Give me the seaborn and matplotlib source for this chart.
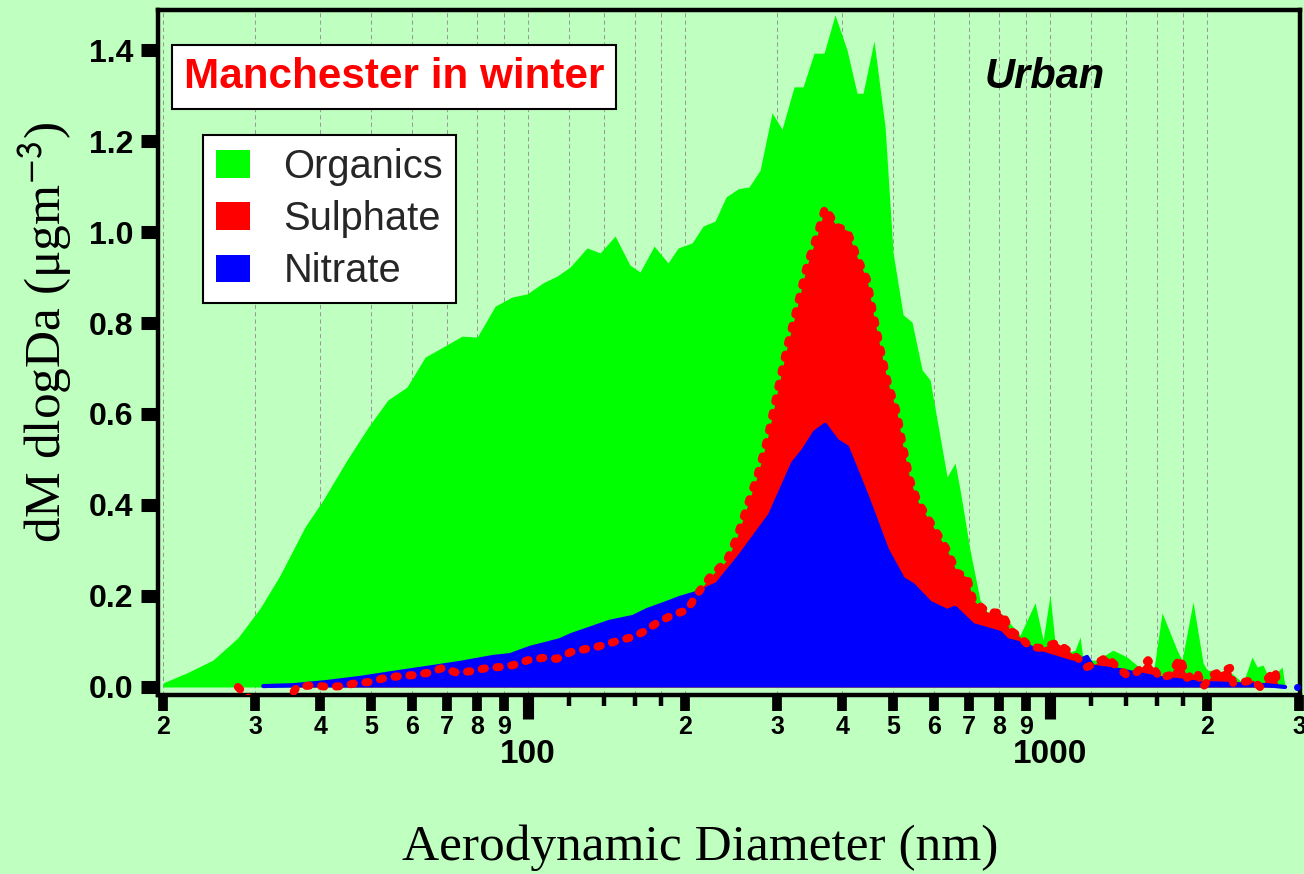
import numpy as np
import matplotlib
matplotlib.use("Agg")
import matplotlib.pyplot as plt
import seaborn as sns
from matplotlib.patches import Patch
from matplotlib import font_manager as fm
from matplotlib.ticker import FixedLocator, FixedFormatter, NullFormatter, NullLocator

# ---------------- data ----------------
organics_d = [20.0, 22.2, 24.9, 27.8, 30.7, 33.5, 37.4, 40.5, 45.0, 49.4, 53.9, 58.6, 63.5, 68.7,
              74.7, 79.9, 86.5, 93.2, 99.6, 106.8, 113.6, 120.4, 129.7, 137.4, 146.8, 156.8, 163.9,
              174.4, 185.4, 193.9, 206.2, 216.4, 228.2, 239.5, 252.6, 265.1, 278.3, 293.4, 306.6,
              323.3, 336.4, 353.1, 369.0, 387.3, 408.4, 426.8, 438.3, 460.0, 483.0, 500.4, 523.0,
              544.0, 568.6, 589.0, 596.9, 635.0, 657.7, 672.4, 702.6, 734.4, 757.4, 812.8, 876,
              936, 970, 1000, 1022, 1092, 1117, 1142, 1157, 1230, 1320, 1404, 1487, 1575, 1639,
              1751, 1790, 1879, 1964, 1999, 2212, 2343, 2438, 2492, 2559, 2639, 2783, 2820]
organics_v = [0.009, 0.031, 0.059, 0.108, 0.174, 0.246, 0.352, 0.411, 0.499, 0.571, 0.631, 0.659,
              0.725, 0.747, 0.771, 0.769, 0.837, 0.857, 0.864, 0.888, 0.903, 0.923, 0.965, 0.954,
              0.991, 0.927, 0.912, 0.969, 0.932, 0.965, 0.976, 1.013, 1.024, 1.077, 1.095, 1.099,
              1.136, 1.262, 1.226, 1.319, 1.319, 1.393, 1.393, 1.477, 1.400, 1.305, 1.305, 1.420,
              1.231, 0.954, 0.818, 0.802, 0.697, 0.675, 0.637, 0.462, 0.492, 0.433, 0.301, 0.191,
              0.165, 0.158, 0.114, 0.185, 0.103, 0.202, 0.099, 0.077, 0.081, 0.110, 0.059, 0.059,
              0.081, 0.066, 0.042, 0.026, 0.163, 0.081, 0.059, 0.187, 0.053, 0.037, 0.033, 0.009,
              0.066, 0.044, 0.048, 0.015, 0.044, 0.0]

sulphate_d = [27.8, 30.7, 33.5, 36.1, 38.7, 41.4, 44.0, 47.0, 49.8, 53.2, 56.9, 60.2, 64.3, 68.7,
              73.1, 78.1, 83.5, 88.4, 93.6, 100.0, 106.8, 113.6, 120.9, 125.8, 137.4, 150.1, 158.9,
              166.1, 176.6, 188.7, 201.7, 211.7, 223.2, 240.6, 251.4, 262.7, 274.6, 287.0, 299.9,
              313.4, 327.6, 342.3, 357.8, 370.7, 390.8, 408.4, 426.8, 446.2, 458.2, 472.5, 487.3,
              509.3, 523.0, 539.3, 556.2, 581.3, 607.5, 635.0, 663.5, 693.4, 712.0, 757.4, 802,
              812.8, 838, 876, 915.6, 957, 1031, 1092, 1142, 1177, 1230, 1286, 1344, 1404, 1468,
              1541, 1624, 1698, 1774, 1830, 1912, 1964, 2043, 2212, 2242, 2343, 2449, 2525, 2698,
              2734]
sulphate_v = [0.0, -0.05, -0.05, 0.0, 0.004, 0.0, 0.002, 0.009, 0.011, 0.020, 0.024, 0.026, 0.031,
              0.042, 0.031, 0.035, 0.042, 0.044, 0.048, 0.059, 0.064, 0.062, 0.077, 0.081, 0.090,
              0.103, 0.110, 0.121, 0.141, 0.158, 0.169, 0.207, 0.242, 0.279, 0.330, 0.396, 0.462,
              0.543, 0.646, 0.747, 0.835, 0.927, 0.993, 1.053, 1.011, 1.004, 0.945, 0.895, 0.822,
              0.747, 0.675, 0.602, 0.527, 0.455, 0.411, 0.374, 0.338, 0.301, 0.251, 0.242, 0.191,
              0.165, 0.163, 0.158, 0.125, 0.110, 0.088, 0.086, 0.097, 0.077, 0.059, 0.044, 0.053,
              0.066, 0.044, 0.026, 0.033, 0.059, 0.020, 0.026, 0.064, 0.020, 0.033, 0.0, 0.026,
              0.042, 0.009, 0.011, 0.015, 0.0, 0.037, 0.0]

nitrate_d = [31.1, 35.5, 41.2, 47.7, 55.1, 64.0, 74.1, 85.7, 92.4, 100.9, 115.2, 120.9, 143.0,
             158.9, 169.0, 184.6, 195.6, 210.8, 230.2, 254.7, 290.8, 321.9, 336.4, 354.6, 370.7,
             390.8, 408.4, 446.2, 487.3, 523.0, 546.4, 589.0, 635.0, 657.7, 712.0, 802, 827.6,
             903.5, 957, 1107, 1177, 1209, 1362, 1575, 1938, 2604, 2820]
nitrate_v = [0.002, 0.004, 0.011, 0.020, 0.031, 0.042, 0.053, 0.066, 0.070, 0.086, 0.103, 0.114,
             0.143, 0.154, 0.169, 0.185, 0.196, 0.207, 0.226, 0.288, 0.378, 0.492, 0.519, 0.560,
             0.576, 0.541, 0.527, 0.418, 0.301, 0.237, 0.224, 0.185, 0.167, 0.174, 0.136, 0.119,
             0.103, 0.092, 0.075, 0.053, 0.066, 0.044, 0.037, 0.022, 0.009, 0.004, 0.0]
nitrate_dot_d = [2973]
nitrate_dot_v = [0.0]

series_labels = ["Organics", "Sulphate", "Nitrate"]
series_colors = ["#00ff00", "#ff0000", "#0000ff"]

y_ticks = [0.0, 0.2, 0.4, 0.6, 0.8, 1.0, 1.2, 1.4]
y_ticklabels = ["0.0", "0.2", "0.4", "0.6", "0.8", "1.0", "1.2", "1.4"]
decade_ticks = [100, 1000]
decade_labels = ["100", "1000"]
digit_ticks = [20, 30, 40, 50, 60, 70, 80, 90, 200, 300, 400, 500, 600, 700, 800, 900, 2000, 3000]
digit_labels = ["2", "3", "4", "5", "6", "7", "8", "9", "2", "3", "4", "5", "6", "7", "8", "9", "2", "3"]
small_ticks = [120, 140, 160, 180, 1200, 1400, 1600, 1800]

# ---------------- style ----------------
sns.set_theme(style="ticks")
names = {f.name for f in fm.fontManager.ttflist}
NARROW = "Liberation Sans Narrow" in names
SANS_N = ["Liberation Sans Narrow", "Liberation Sans", "DejaVu Sans"] if NARROW else ["Liberation Sans", "DejaVu Sans"]
k = 1.0 if NARROW else 0.87
SERIF = ["Liberation Serif", "DejaVu Serif"]
plt.rcParams["font.family"] = ["Liberation Sans", "DejaVu Sans"]
plt.rcParams["mathtext.fontset"] = "stix"

BG = "#bfffbf"
fig = plt.figure(figsize=(13.04, 8.74), dpi=100, facecolor=BG)
ax = fig.add_axes([0.1212, 0.2048, 0.8758, 0.7838], facecolor=BG)
ax.set_xscale("log")
ax.set_xlim(19.55, 3013)
ax.set_ylim(-0.0176, 1.488)

# fills
ax.fill_between(organics_d, 0, organics_v, color=series_colors[0], lw=0, zorder=2)
ax.fill_between(sulphate_d, 0, np.clip(sulphate_v, 0, None), color=series_colors[1], lw=0, zorder=3)
ax.fill_between(nitrate_d, 0, nitrate_v, color=series_colors[2], lw=0, zorder=4)

sns.lineplot(x=nitrate_d, y=nitrate_v, color=series_colors[2], lw=3, ax=ax, sort=False,
             estimator=None, zorder=5, legend=False)
ax.lines[-1].set_solid_capstyle("round")
sns.lineplot(x=sulphate_d, y=sulphate_v, color=series_colors[1], lw=5.8, ax=ax, sort=False,
             estimator=None, zorder=6, legend=False)
red_line = ax.lines[-1]
red_line.set_linestyle((0, (0.4, 1.45)))
red_line.set_dash_capstyle("round")
red_line.set_solid_capstyle("round")
sns.scatterplot(x=nitrate_dot_d, y=nitrate_dot_v, color=series_colors[2], s=25, ax=ax,
                linewidth=0, zorder=6, legend=False)

# grid
ax.set_axisbelow(True)
ax.xaxis.set_major_locator(FixedLocator(decade_ticks))
ax.xaxis.set_major_formatter(FixedFormatter(decade_labels))
ax.xaxis.set_minor_locator(FixedLocator(digit_ticks + small_ticks))
ax.xaxis.set_minor_formatter(NullFormatter())
ax.grid(False)
ax.grid(True, which="both", axis="x", color="#9a9a9a", linestyle=(0, (4, 3)), linewidth=0.75)

ax.tick_params(axis="x", which="major", direction="out", length=17, width=8, pad=14.5,
               labelsize=24, colors="black")
ax.tick_params(axis="x", which="minor", direction="out", length=8, width=3.2, colors="black")
for t in ax.get_xticklabels():
    t.set_fontweight("bold")
    t.set_family(SANS_N)

ax.set_yticks(y_ticks)
ax.set_yticklabels(y_ticklabels, fontweight="bold", family=SANS_N)
ax.tick_params(axis="y", which="major", direction="out", length=12, width=9.4, pad=6,
               labelsize=23, colors="black")
ax.yaxis.set_minor_locator(NullLocator())

for s in ax.spines.values():
    s.set_visible(True)
    s.set_linewidth(3.2)
    s.set_color("black")

# labelled digit ticks on a twin x axis
ax2 = ax.twiny()
ax2.set_xscale("log")
ax2.set_xlim(ax.get_xlim())
ax2.xaxis.set_ticks_position("bottom")
ax2.xaxis.set_label_position("bottom")
ax2.xaxis.set_major_locator(FixedLocator(digit_ticks))
ax2.xaxis.set_major_formatter(FixedFormatter(digit_labels))
ax2.xaxis.set_minor_locator(NullLocator())
ax2.tick_params(axis="x", which="major", direction="out", length=11.5, width=7, pad=3,
                labelsize=18, colors="black", top=False, labeltop=False,
                bottom=True, labelbottom=True)
for t in ax2.get_xticklabels():
    t.set_fontweight("bold")
    t.set_family(SANS_N)
for s in ax2.spines.values():
    s.set_visible(False)

# axis labels
ax.set_xlabel("Aerodynamic Diameter (nm)", family=SERIF, fontsize=37, color="black", va="center")
ax.xaxis.set_label_coords(0.4746, -0.2234)
ax.set_ylabel("dM dlogDa (\u03bcgm$^{\\mathsf{-3}}$)", family=SERIF, fontsize=37, color="black",
              va="center")
ax.yaxis.set_label_coords(-0.099, 0.53)

# annotations
ax.text(0.2067, 0.902, "Manchester in winter", transform=ax.transAxes, ha="center", va="center",
        color="#ff0000", fontweight="bold", fontsize=35 * k, family=SANS_N, zorder=10,
        bbox=dict(boxstyle="square,pad=0.28", fc="white", ec="black", lw=1.5))
ax.text(0.7767, 0.902, "Urban", transform=ax.transAxes, ha="center", va="center",
        color="black", fontweight="bold", fontstyle="italic", fontsize=30,
        family=["Liberation Sans", "DejaVu Sans"], zorder=10)

handles = [Patch(facecolor=c, edgecolor="none") for c in series_colors]
leg = ax.legend(handles, series_labels, loc="upper left", bbox_to_anchor=(0.0394, 0.8175),
                frameon=True, fancybox=False, edgecolor="black", facecolor="white", framealpha=1,
                prop=dict(family=SANS_N, size=33 * k), handlelength=0.85, handleheight=0.7,
                handletextpad=0.85, borderpad=0.32, labelspacing=0.36, borderaxespad=0)
leg.get_frame().set_linewidth(1.5)
leg.set_zorder(10)

fig.savefig("out.png", dpi=100, facecolor=BG)
